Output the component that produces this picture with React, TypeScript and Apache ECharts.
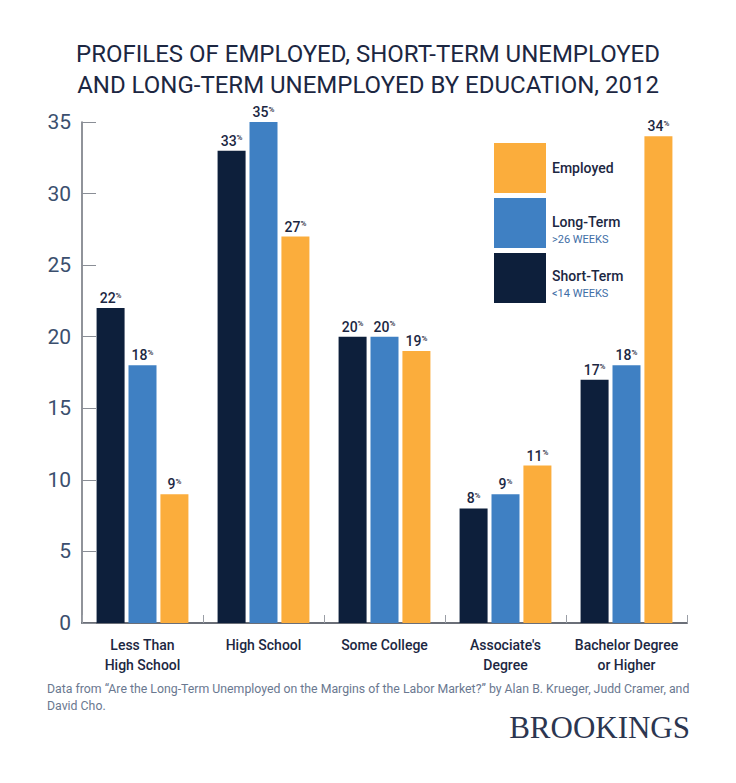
import React, { useEffect, useRef } from "react";
import * as echarts from "echarts";

const categories = ["Less Than\nHigh School", "High School", "Some College", "Associate's\nDegree", "Bachelor Degree\nor Higher"];
const shortTerm = [22, 33, 20, 8, 17];
const longTerm = [18, 35, 20, 9, 18];
const employed = [9, 27, 19, 11, 34];
const yTicks = { min: 0, max: 35, interval: 5 };

const NAVY = "#0d1f3b";
const BLUE = "#3f80c3";
const ORANGE = "#fbad3c";
const TEXT = "#1c2742";

export default function App() {
  const ref = useRef<HTMLDivElement>(null);
  useEffect(() => {
    document.body.style.margin = "0";
    const chart = echarts.init(ref.current!, undefined, { renderer: "svg" });
    const label = {
      show: true,
      position: "top",
      distance: 3,
      formatter: (p: any) => `{n|${p.value}}{p|%}`,
      rich: {
        n: { fontSize: 14, fontWeight: 500, color: TEXT, fontFamily: "Roboto" },
        p: { fontSize: 8, fontWeight: 500, color: TEXT, fontFamily: "Roboto", padding: [0, 0, 6, 0] },
      },
    };
    const mk = (name: string, data: number[], color: string) => ({
      name,
      type: "bar",
      data,
      barWidth: 28,
      barGap: "14%",
      itemStyle: { color },
      label,
    });
    chart.setOption({
      animation: false,
      backgroundColor: "#ffffff",
      title: {
        text: "PROFILES OF EMPLOYED, SHORT-TERM UNEMPLOYED\nAND LONG-TERM UNEMPLOYED BY EDUCATION, 2012",
        left: "center",
        top: 33,
        textStyle: { fontSize: 24, fontWeight: "normal", color: TEXT, fontFamily: "Roboto", lineHeight: 31 },
      },
      grid: { left: 82, right: 49, top: 122, bottom: 160, containLabel: false },
      xAxis: {
        type: "category",
        data: categories,
        axisLine: { lineStyle: { color: "#6b6f78", width: 2 } },
        axisTick: { show: true, inside: true, length: 8, lineStyle: { color: "#9a9ea6" } },
        axisLabel: { interval: 0, fontSize: 14, fontWeight: 500, color: TEXT, lineHeight: 20, margin: 12, fontFamily: "Roboto" },
      },
      yAxis: {
        type: "value",
        min: yTicks.min,
        max: yTicks.max,
        interval: yTicks.interval,
        splitLine: { show: false },
        axisLine: { show: true, lineStyle: { color: "#6b6f78", width: 1.5 } },
        axisTick: { show: true, inside: true, length: 14, lineStyle: { color: "#8a8e96" } },
        axisLabel: { fontSize: 21, color: "#3b4f6e", margin: 11, fontFamily: "Roboto" },
      },
      series: [mk("Short-Term", shortTerm, NAVY), mk("Long-Term", longTerm, BLUE), mk("Employed", employed, ORANGE)],
      graphic: [
        { type: "rect", shape: { x: 494, y: 143, width: 52, height: 50 }, style: { fill: ORANGE } },
        { type: "rect", shape: { x: 494, y: 198, width: 52, height: 50 }, style: { fill: BLUE } },
        { type: "rect", shape: { x: 494, y: 253, width: 52, height: 50 }, style: { fill: NAVY } },
        { type: "text", x: 552, y: 168, style: { text: "Employed", fill: TEXT, fontSize: 14, fontWeight: 500, fontFamily: "Roboto", verticalAlign: "middle" } },
        { type: "text", x: 552, y: 222, style: { text: "Long-Term", fill: TEXT, fontSize: 14, fontWeight: 500, fontFamily: "Roboto", verticalAlign: "middle" } },
        { type: "text", x: 552, y: 239, style: { text: ">26 WEEKS", fill: "#3f6ea6", fontSize: 11, fontFamily: "Roboto", verticalAlign: "middle" } },
        { type: "text", x: 552, y: 276, style: { text: "Short-Term", fill: TEXT, fontSize: 14, fontWeight: 500, fontFamily: "Roboto", verticalAlign: "middle" } },
        { type: "text", x: 552, y: 293, style: { text: "<14 WEEKS", fill: "#3f6ea6", fontSize: 11, fontFamily: "Roboto", verticalAlign: "middle" } },
        {
          type: "text", x: 47, y: 680,
          style: {
            text: "Data from \u201cAre the Long-Term Unemployed on the Margins of the Labor Market?\u201d by Alan B. Krueger, Judd Cramer, and\nDavid Cho.",
            fill: "#6a7890", fontSize: 12.3, fontFamily: "Roboto", lineHeight: 17,
          },
        },
        {
          type: "text", x: 690, y: 727,
          style: { text: "BROOKINGS", fill: "#2c3650", fontSize: 31, fontFamily: "Liberation Serif", align: "right", verticalAlign: "middle" },
        },
      ],
    });
    return () => chart.dispose();
  }, []);
  return <div ref={ref} style={{ width: 736, height: 783 }} />;
}
